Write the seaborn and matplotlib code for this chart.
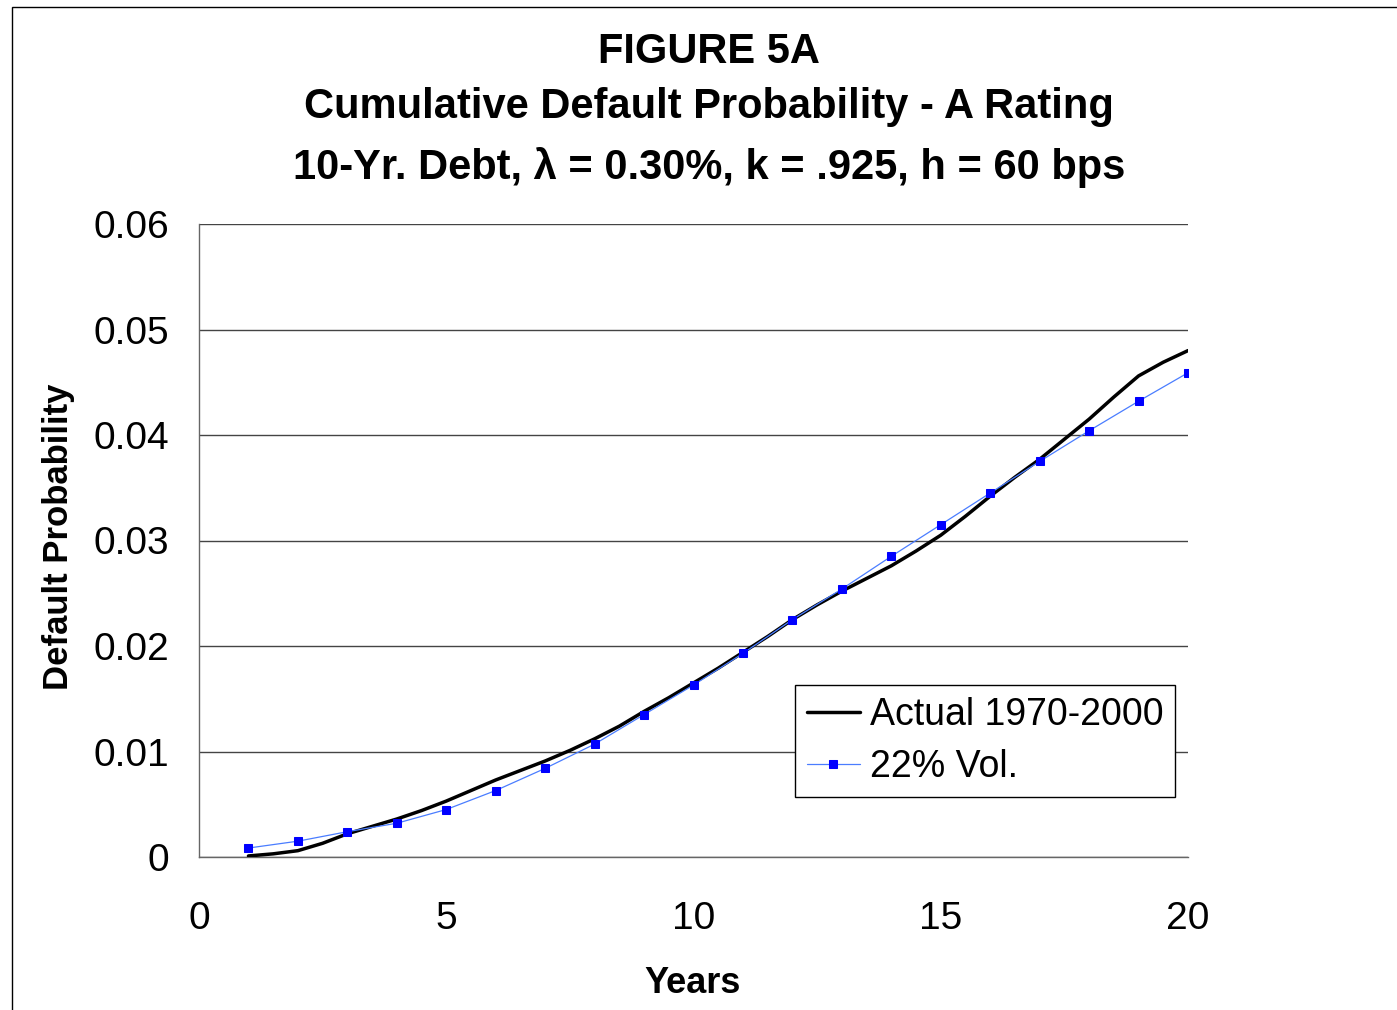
import numpy as np
import pandas as pd
import matplotlib
matplotlib.use("Agg")
import matplotlib.pyplot as plt
import seaborn as sns
from matplotlib.patches import Rectangle

# ---- data ----
actual_years = [1.0, 1.5, 2.0, 2.5, 3.0, 3.5, 4.0, 4.5, 5.0, 5.5, 6.0, 6.5, 7.0, 7.5,
                8.0, 8.5, 9.0, 9.5, 10.0, 10.5, 11.0, 11.5, 12.0, 12.5, 13.0, 13.5,
                14.0, 14.5, 15.0, 15.5, 16.0, 16.5, 17.0, 17.5, 18.0, 18.5, 19.0, 19.5, 20.0]
actual_pd = [0.0001, 0.0003, 0.0006, 0.0013, 0.0022, 0.0029, 0.0036, 0.0044, 0.0053,
             0.0063, 0.0073, 0.0082, 0.0091, 0.0101, 0.0112, 0.0124, 0.0138, 0.0151,
             0.0165, 0.0179, 0.0194, 0.0209, 0.0225, 0.0239, 0.0252, 0.0264, 0.0276,
             0.0290, 0.0305, 0.0323, 0.0342, 0.0360, 0.0377, 0.0396, 0.0415, 0.0436,
             0.0456, 0.0469, 0.0480]
vol_years = list(range(1, 21))
vol_pd = [0.00085, 0.0015, 0.0024, 0.0032, 0.0045, 0.0063, 0.0084, 0.0107, 0.0135, 0.0163,
          0.0193, 0.0225, 0.0254, 0.0285, 0.0315, 0.0345, 0.0375, 0.0404, 0.0432, 0.0459]
series_names = ["Actual 1970-2000", "22% Vol."]
x_ticks = [0, 5, 10, 15, 20]
y_ticks = [0, 0.01, 0.02, 0.03, 0.04, 0.05, 0.06]
y_tick_labels = ["0", "0.01", "0.02", "0.03", "0.04", "0.05", "0.06"]
title_lines = ["FIGURE 5A", "Cumulative Default Probability - A Rating",
               "10-Yr. Debt, λ = 0.30%, k = .925, h = 60 bps"]

df_act = pd.DataFrame({"Years": actual_years, "PD": actual_pd})
df_vol = pd.DataFrame({"Years": vol_years, "PD": vol_pd})

sns.set_theme(style="white")
plt.rcParams["font.family"] = ["Liberation Sans", "DejaVu Sans"]
plt.rcParams["text.color"] = "black"
plt.rcParams["axes.labelcolor"] = "black"

W, H = 1397, 1010
fig = plt.figure(figsize=(W / 100, H / 100), dpi=100)
ax = fig.add_axes([199 / W, 1 - 857 / H, (1188 - 199) / W, (857 - 224) / H])

sns.lineplot(data=df_act, x="Years", y="PD", ax=ax, color="black", linewidth=2.5,
             label=series_names[0], zorder=3)
sns.lineplot(data=df_vol, x="Years", y="PD", ax=ax, color="#4a7dff", linewidth=0.9,
             marker="s", markersize=5.5, markerfacecolor="#0000ff", markeredgecolor="#0000ff",
             label=series_names[1], zorder=4)

ax.set_xlim(0, 20)
ax.set_ylim(0, 0.06)
ax.set_xticks(x_ticks)
ax.set_xticklabels([str(t) for t in x_ticks])
ax.set_yticks(y_ticks)
ax.set_yticklabels(y_tick_labels)
ax.tick_params(axis="both", labelsize=28, colors="black", direction="out",
               length=8.5, width=1)
ax.tick_params(axis="x", pad=23, color="#555555")
ax.tick_params(axis="y", pad=13, color="#555555")
ax.yaxis.grid(True, color="#444444", linewidth=1.0)
ax.xaxis.grid(False)
ax.set_axisbelow(True)
for s in ["top", "right"]:
    ax.spines[s].set_visible(False)
for s in ["left", "bottom"]:
    ax.spines[s].set_color("#666666")
    ax.spines[s].set_linewidth(1.0)

ax.set_xlabel("Years", fontsize=26, fontweight="bold")
ax.xaxis.set_label_coords((693 - 199) / 989, (857 - 966) / 633)
ax.set_ylabel("Default Probability", fontsize=25, fontweight="bold")
ax.yaxis.set_label_coords((75 - 199) / 989, (857 - 537) / 633)

leg = ax.legend(loc="upper left", bbox_to_anchor=((795 - 199) / 989, (857 - 685) / 633),
                fontsize=27, frameon=True, fancybox=False, edgecolor="black", framealpha=1,
                handlelength=1.4, handletextpad=0.27, borderpad=0.32, labelspacing=0.42,
                borderaxespad=0)
leg.get_frame().set_linewidth(1.0)

ys = [52, 107, 167]
for t, y in zip(title_lines, ys):
    fig.text(0.5075, 1 - y / H, t, ha="center", va="center", fontsize=30,
             fontweight="bold", color="black")

fig.patches.append(Rectangle((12 / W, -0.1), 1.2, 1 - 7 / H + 0.1,
                             transform=fig.transFigure, fill=False,
                             edgecolor="black", linewidth=1.0))

fig.savefig("out.png", dpi=100)
